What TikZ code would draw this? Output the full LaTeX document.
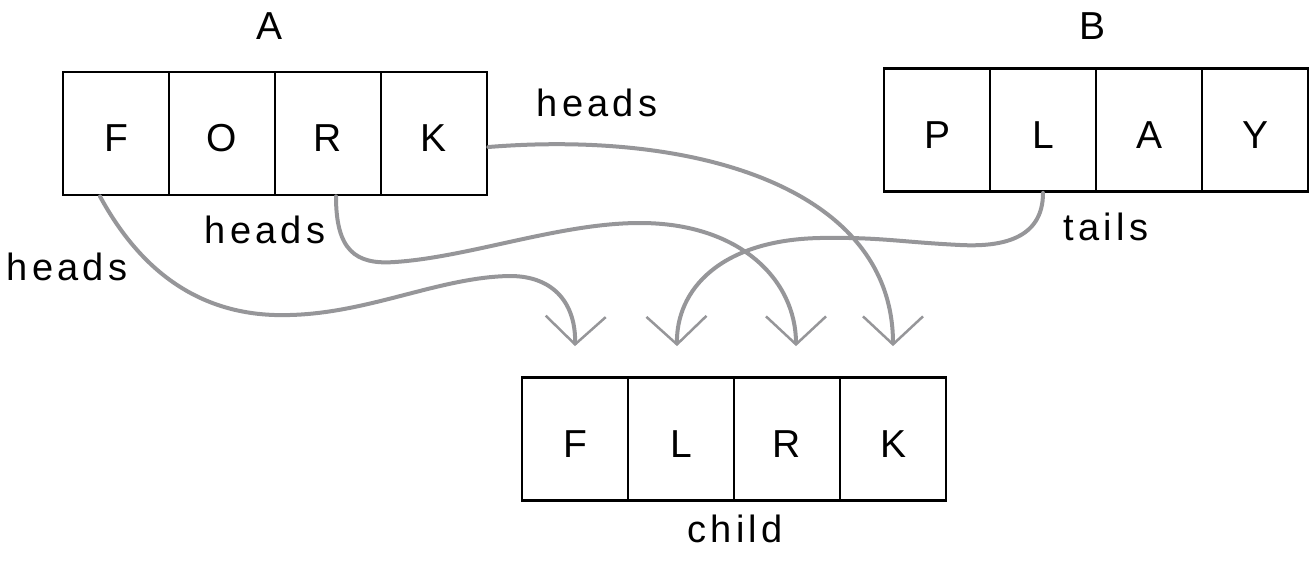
\documentclass[tikz,border=0pt]{standalone}
\usepackage{fontspec}
\setmainfont{Liberation Sans}
\newfontfamily\lblfont[LetterSpace=11]{Liberation Sans}
\usetikzlibrary{arrows.meta,calc}
\definecolor{linkgray}{RGB}{150,150,153}
\begin{document}
\begin{tikzpicture}[x=1pt,y=-1pt,
  cell/.style={draw=black,line width=2.8pt,minimum width=106pt,minimum height=123pt,inner sep=0pt,
    text height=40pt,text depth=3pt,font=\fontsize{39}{40}\selectfont},
  title/.style={anchor=base,inner sep=0pt,font=\fontsize{39}{40}\selectfont},
  lbl/.style={anchor=base,inner sep=0pt,font=\lblfont\fontsize{38}{40}\selectfont},
  link/.style={draw=linkgray,line width=4pt,line cap=round,
    -{Straight Barb[length=28pt,width=60pt,line width=2.5pt]}}]
\useasboundingbox (0,0) rectangle (1311,564);
% strip A
\node[cell] (a1) at (116,133.5) {F};
\node[cell] (a2) at (222,133.5) {O};
\node[cell] (a3) at (328,133.5) {R};
\node[cell] (a4) at (434,133.5) {K};
% strip B
\node[cell] (b1) at (937,130) {P};
\node[cell] (b2) at (1043,130) {L};
\node[cell] (b3) at (1149,130) {A};
\node[cell] (b4) at (1255,130) {Y};
% child
\node[cell] (c1) at (575,439) {F};
\node[cell] (c2) at (681,439) {L};
\node[cell] (c3) at (787,439) {R};
\node[cell] (c4) at (893,439) {K};
% titles
\node[title] (ta) at (270,40) {A};
\node[title] (tb) at (1092,40) {B};
\node[lbl] (tc) at (735,542) {child};
% edge labels
\node[lbl] (h1) at (597,117) {heads};
\node[lbl] (h2) at (265,243) {heads};
\node[lbl] (h3) at (67,280) {heads};
\node[lbl] (t1) at (1106,240) {tails};
% connectors
\draw[link] ([xshift=-16pt]a1.south) .. controls (140,270) and (200,318) .. (290,315)
  .. controls (370,313) and (440,277) .. (510,276)
  .. controls (555,276) and (576,305) .. ([yshift=30pt]c1.north);
\draw[link] ([xshift=8pt]a3.south) .. controls (336,250) and (355,265) .. (395,262)
  .. controls (470,257) and (560,223) .. (640,223)
  .. controls (740,223) and (796,280) .. ([xshift=9pt,yshift=30pt]c3.north);
\draw[link] ([yshift=-13.5pt]a4.east) .. controls (700,130) and (893,190) .. ([yshift=30pt]c4.north);
\draw[link] (b2.south) .. controls (1043,240) and (1000,247) .. (960,245)
  .. controls (900,242) and (880,237) .. (820,238)
  .. controls (720,240) and (676,290) .. ([xshift=-4pt,yshift=30pt]c2.north);
\end{tikzpicture}
\end{document}
